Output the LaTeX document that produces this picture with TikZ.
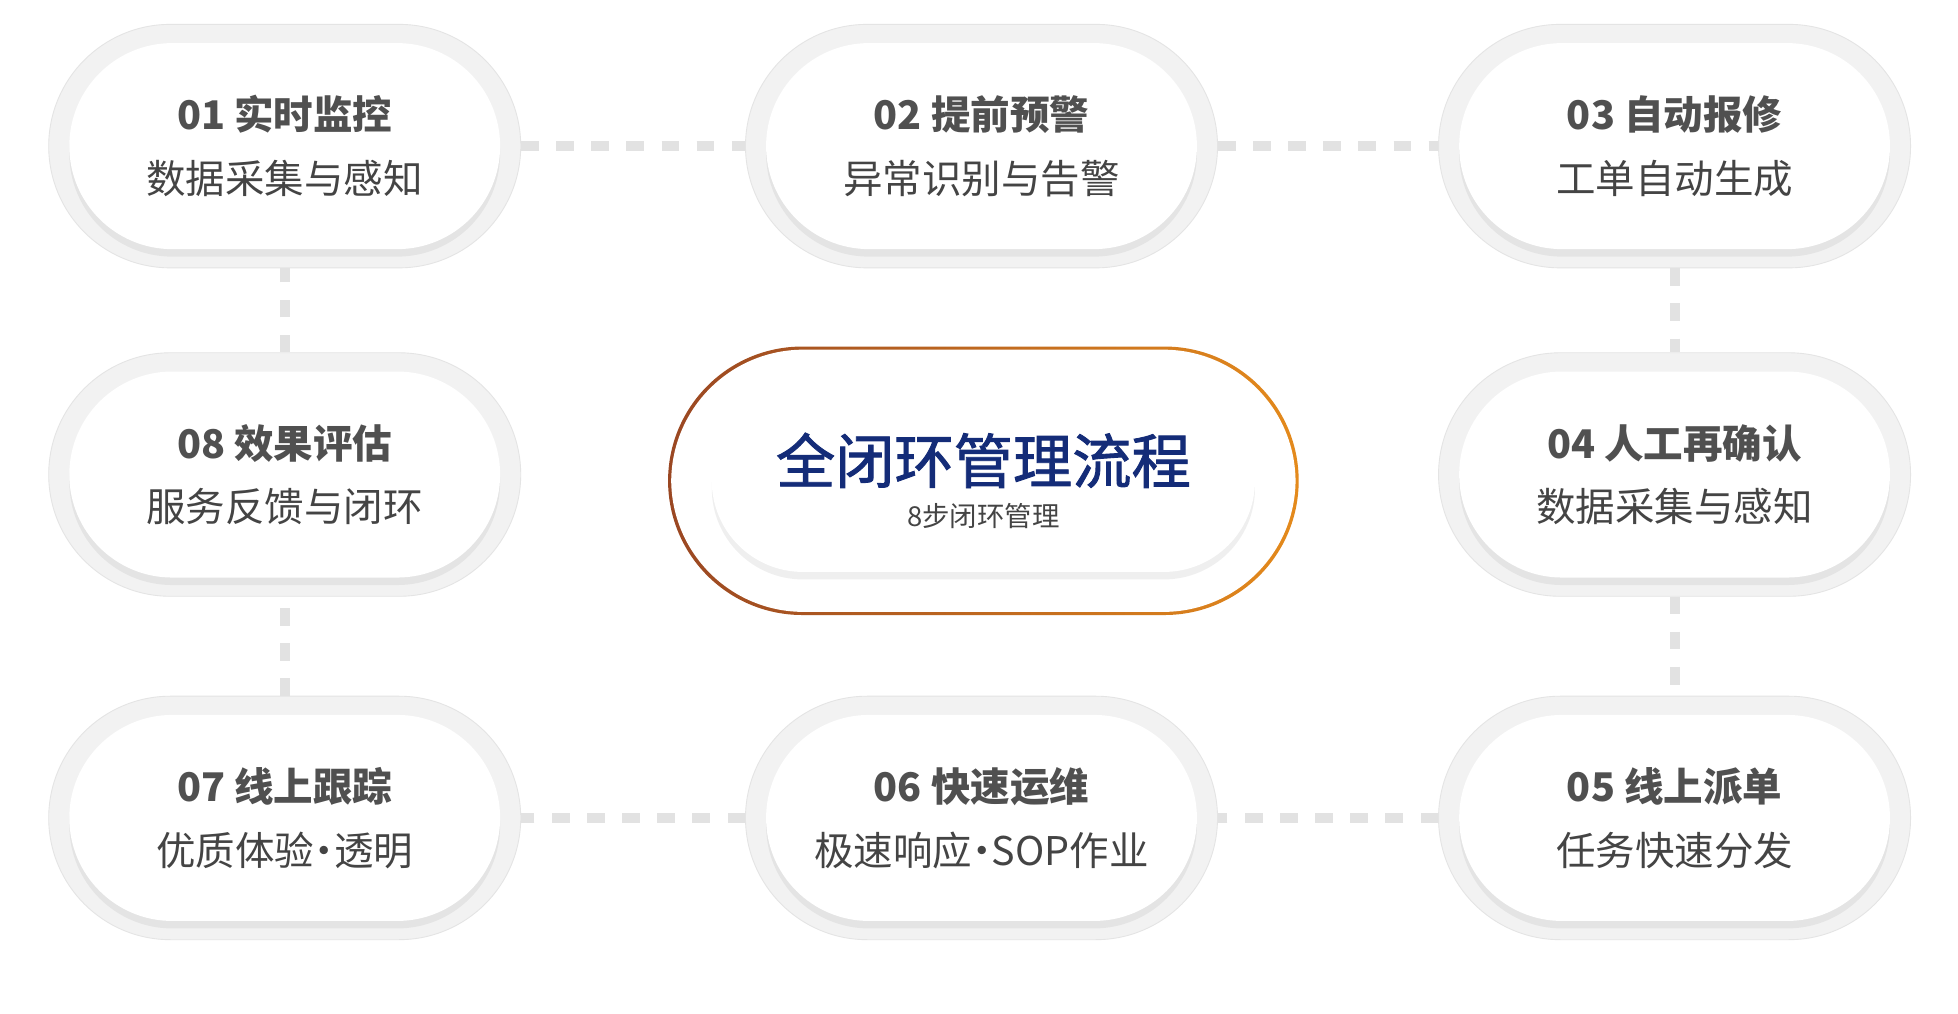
\documentclass[tikz,border=0pt]{standalone}
\usepackage{fontspec}
\setmainfont{Noto Sans CJK SC}
\usetikzlibrary{shadows,backgrounds}
\definecolor{ringgray}{HTML}{F2F2F2}
\definecolor{ringline}{HTML}{E4E4E4}
\definecolor{dotgray}{HTML}{E2E2E2}
\definecolor{titlegray}{HTML}{505050}
\definecolor{subgray}{HTML}{444444}
\definecolor{navy}{HTML}{142C78}
\definecolor{rust}{HTML}{9A4722}
\definecolor{amber}{HTML}{E48A1C}
\tikzstyle{ring} = [draw=ringline, fill=ringgray, minimum width=7.56cm,
  minimum height=3.9cm, rounded corners=1.95cm]
\tikzstyle{pill} = [fill=white, minimum width=6.9cm, minimum height=3.3cm,
  rounded corners=1.65cm, align=center,
  drop shadow={opacity=0.12, shadow xshift=0, shadow yshift=-0.12cm}]
\tikzstyle{dots} = [draw=dotgray, line width=4.5pt, dash pattern=on 8pt off 8pt]
\newcommand{\middot}{\kern-0.25em·\kern-0.25em}
\newcommand{\etapa}[4]{%
  \node (r#1) [ring] at (#2) {};
  \node (s#1) [pill] at (#2)
    {{\fontsize{18}{21}\selectfont\bfseries\color{titlegray}#3}\\[11pt]
     {\fontsize{18}{21}\selectfont\color{subgray}#4}};}

\begin{document}
\begin{tikzpicture}
  \useasboundingbox (0,0) rectangle (31.36,-16.24);

  % Steps
  \etapa{1}{4.56,-2.34}{01 实时监控}{数据采集与感知}
  \etapa{2}{15.72,-2.34}{02 提前预警}{异常识别与告警}
  \etapa{3}{26.82,-2.34}{03 自动报修}{工单自动生成}
  \etapa{4}{26.82,-7.6}{04 人工再确认}{数据采集与感知}
  \etapa{5}{26.82,-13.1}{05 线上派单}{任务快速分发}
  \etapa{6}{15.72,-13.1}{06 快速运维}{极速响应\middot SOP作业}
  \etapa{7}{4.56,-13.1}{07 线上跟踪}{优质体验\middot 透明}
  \etapa{8}{4.56,-7.6}{08 效果评估}{服务反馈与闭环}

  % Centre
  \node (c0) [rounded corners=2.15cm, minimum width=10.1cm, minimum height=4.3cm,
    left color=rust, right color=amber] at (15.75,-7.7) {};
  \node (c1) [rounded corners=2.12cm, minimum width=10.0cm, minimum height=4.2cm,
    fill=white] at (c0) {};
  \node (c2) [pill, minimum width=8.7cm, minimum height=2.92cm, rounded corners=1.46cm]
    at (15.75,-7.7)
    {{\fontsize{27}{31}\selectfont\color{navy}\addfontfeatures{FakeBold=1.5}全闭环管理流程}\\[6pt]
     {\fontsize{12.5}{14}\selectfont\color{subgray}8步闭环管理}};

  % Dotted links
  \begin{scope}[on background layer]
    \fill[white] (0,0) rectangle (31.36,-16.24);
    \path [dots] (r1) -- (r2);
    \path [dots] (r2) -- (r3);
    \path [dots] (r3) -- (r4);
    \path [dots] (r4) -- (r5);
    \path [dots] (r5) -- (r6);
    \path [dots] (r6) -- (r7);
    \path [dots] (r7) -- (r8);
    \path [dots] (r8) -- (r1);
  \end{scope}
\end{tikzpicture}
\end{document}
